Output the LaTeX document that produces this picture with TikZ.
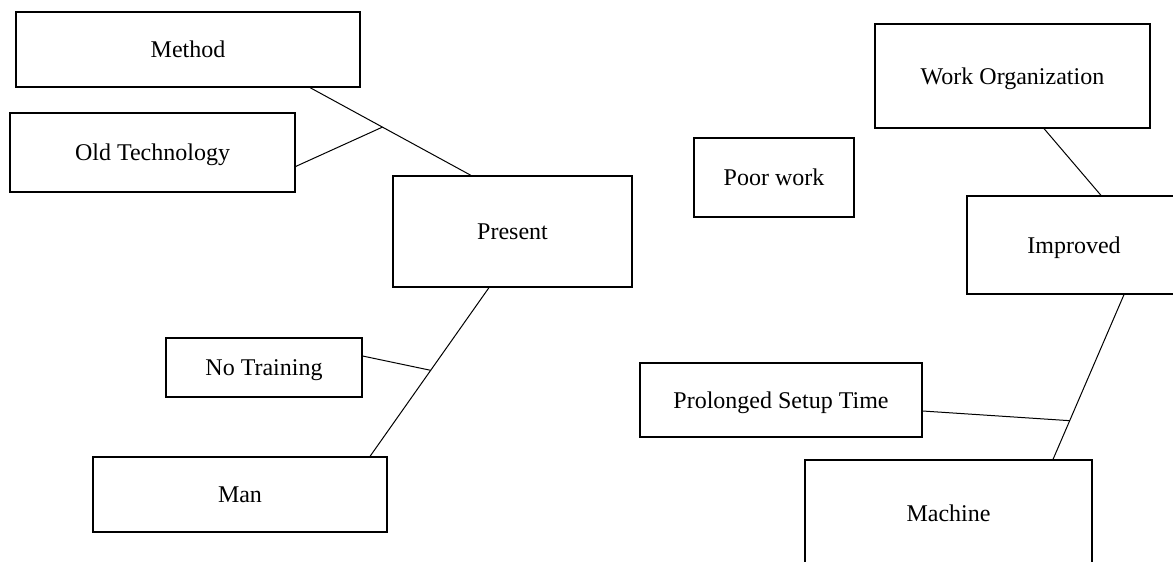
\documentclass[tikz,border=0pt]{standalone}
\usepackage{fontspec}
\setmainfont{Liberation Serif}
\usetikzlibrary{calc}
\usetikzlibrary{positioning}

\tikzset{
  cause/.style={draw, line width=0.6pt, inner sep=0pt, text height=8pt, text depth=0pt, font=\fontsize{12}{14}\selectfont},
  bone/.style={line width=0.5pt}
}

\begin{document}
\begin{tikzpicture}[x=0.5pt, y=-0.5pt]
    \useasboundingbox (0, 0) rectangle (1173, 562);
    \clip (0, 0) rectangle (1173, 562);

    % left side
    \node [cause, minimum width=172pt, minimum height=37.5pt] (method) at (188, 49.5) {Method};
    \node [cause, minimum width=142.5pt, minimum height=39.5pt] (oldtech) at (152.5, 152.5) {Old Technology};
    \node [cause, minimum width=119.5pt, minimum height=55.5pt] (present) at (512.5, 231.5) {Present};
    \node [cause, minimum width=98pt, minimum height=29.5pt] (notraining) at (264, 367.5) {No Training};
    \node [cause, minimum width=147pt, minimum height=37.5pt] (man) at (240, 494.5) {Man};

    % right side
    \node [cause, minimum width=80pt, minimum height=39.5pt] (poorwork) at (774, 177.5) {Poor work};
    \node [cause, minimum width=137.5pt, minimum height=52pt] (workorg) at (1012.5, 76) {Work Organization};
    \node [cause, minimum width=107pt, minimum height=49pt] (improved) at (1074, 245) {Improved};
    \node [cause, minimum width=141pt, minimum height=37pt] (setup) at (781, 400) {Prolonged Setup Time};
    \node [cause, minimum width=143.5pt, minimum height=53pt] (machine) at (948.5, 513) {Machine};

    \draw [bone] ($(method.south) + (122, 0)$) -- coordinate [pos=0.45] (j1) ($(present.north) + (-41.5, 0)$);
    \draw [bone] ($(oldtech.east) + (0, 14)$) -- (j1);
    \draw [bone] ($(present.south) + (-23.5, 0)$) -- coordinate [pos=0.49] (j2) ($(man.north) + (130, 0)$);
    \draw [bone] ($(notraining.east) + (0, -11.5)$) -- (j2);

    \draw [bone] ($(workorg.south) + (31.5, 0)$) -- ($(improved.north) + (27, 0)$);
    \draw [bone] ($(improved.south) + (50, 0)$) -- coordinate [pos=0.765] (j3) ($(machine.north) + (104.5, 0)$);
    \draw [bone] ($(setup.east) + (0, 11)$) -- (j3);
\end{tikzpicture}
\end{document}
